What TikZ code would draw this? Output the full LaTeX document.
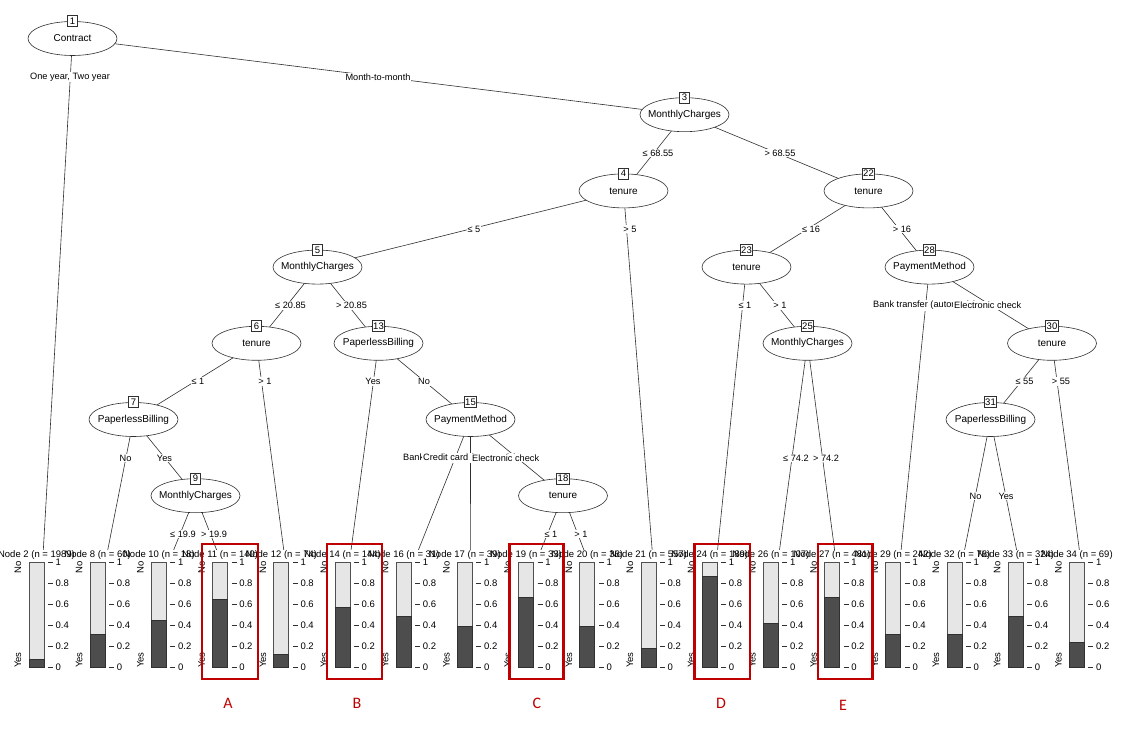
\documentclass[tikz,border=0pt]{standalone}
\usepackage{fontspec}
\setmainfont{Liberation Sans}
\newfontfamily\letterfont{Carlito}
\usetikzlibrary{shapes.geometric,backgrounds}
\pgfdeclarelayer{paper}
\pgfsetlayers{paper,background,main}
\definecolor{edgecol}{HTML}{303030}
\definecolor{barlight}{HTML}{E6E6E6}
\definecolor{bardark}{HTML}{4D4D4D}
\definecolor{barline}{HTML}{505050}
\definecolor{markred}{HTML}{C00000}
\tikzset{
  inode/.style={ellipse, draw=edgecol, fill=white, line width=0.6pt, minimum width=89pt, minimum height=34pt, inner sep=0pt, font=\fontsize{10}{12}\selectfont},
  numbox/.style={draw=edgecol, fill=white, line width=0.6pt, inner sep=1pt, minimum width=10pt, minimum height=11pt, font=\fontsize{9.5}{11}\selectfont},
  elab/.style={fill=white, inner sep=1pt, font=\fontsize{9.2}{10}\selectfont},
  conn/.style={draw=edgecol, line width=0.6pt},
  hdr/.style={inner sep=0pt, font=\fontsize{9.5}{11}\selectfont},
  ticklab/.style={inner sep=0pt, anchor=west, font=\fontsize{9.5}{11}\selectfont},
  sidelab/.style={inner sep=0pt, rotate=90, font=\fontsize{9.5}{11}\selectfont},
  redbox/.style={draw=markred, line width=2.8pt},
  letter/.style={text=markred, font=\letterfont\fontsize{16}{18}\selectfont}
}
\newcommand\termpanel[4]{%
  \pgfmathsetmacro\bl{29+61.2*#2}%
  \pgfmathsetmacro\bd{667-105*#3}%
  \coordinate (t#1) at (\bl+13,573);
  \fill[white] (\bl-2,549.5) rectangle (\bl+28,577);
  \node[hdr] (h#1) at (\bl+7.5,555) {Node #1 (n = #4)};
  \draw[barline, line width=0.7pt, fill=barlight] (\bl,562) rectangle (\bl+15,667);
  \draw[edgecol, line width=0.7pt, fill=bardark] (\bl,\bd) rectangle (\bl+15,667);
  \foreach \k/\t in {0/1,1/0.8,2/0.6,3/0.4,4/0.2,5/0}{
    \draw[edgecol, line width=0.6pt] (\bl+19,562+21*\k) -- (\bl+24,562+21*\k);
    \node[ticklab] at (\bl+26.5,562+21*\k) {\t};
  }
  \node[sidelab, anchor=east] (no#1) at (\bl-11,561) {No};
  \node[sidelab, anchor=west] (yes#1) at (\bl-11,668) {Yes};
}
\begin{document}
\begin{tikzpicture}[x=1pt,y=-1pt]
\begin{pgfonlayer}{paper}
\fill[white] (0,0) rectangle (1125,741);
\end{pgfonlayer}
\useasboundingbox (0,0) rectangle (1125,741);

% inner nodes
\node[inode] (n1) at (72.5,38.5) {\makebox[0pt]{Contract}};
\node[inode] (n3) at (684.5,114.7) {\makebox[0pt]{MonthlyCharges}};
\node[inode] (n4) at (623.5,190.9) {\makebox[0pt]{tenure}};
\node[inode] (n22) at (868.5,190.9) {\makebox[0pt]{tenure}};
\node[inode] (n5) at (317.5,267.1) {\makebox[0pt]{MonthlyCharges}};
\node[inode] (n23) at (746.5,267.1) {\makebox[0pt]{tenure}};
\node[inode] (n28) at (929.5,267.1) {\makebox[0pt]{PaymentMethod}};
\node[inode] (n6) at (256.5,343.3) {\makebox[0pt]{tenure}};
\node[inode] (n13) at (378.5,343.3) {\makebox[0pt]{PaperlessBilling}};
\node[inode] (n25) at (807.5,343.3) {\makebox[0pt]{MonthlyCharges}};
\node[inode] (n30) at (1052,343.3) {\makebox[0pt]{tenure}};
\node[inode] (n7) at (133.5,419.5) {\makebox[0pt]{PaperlessBilling}};
\node[inode] (n15) at (470.5,419.5) {\makebox[0pt]{PaymentMethod}};
\node[inode] (n31) at (990.5,419.5) {\makebox[0pt]{PaperlessBilling}};
\node[inode] (n9) at (195.5,495.7) {\makebox[0pt]{MonthlyCharges}};
\node[inode] (n18) at (563,495.7) {\makebox[0pt]{tenure}};

\foreach \n in {1,3,4,22,5,23,28,6,13,25,30,7,15,31,9,18}{
  \node[numbox] (b\n) at (n\n.north) {\n};
}

% terminal panels
\termpanel{2}{0}{0.07}{1989}
\termpanel{8}{1}{0.31}{60}
\termpanel{10}{2}{0.445}{18}
\termpanel{11}{3}{0.645}{140}
\termpanel{12}{4}{0.124}{74}
\termpanel{14}{5}{0.57}{144}
\termpanel{16}{6}{0.486}{31}
\termpanel{17}{7}{0.39}{39}
\termpanel{19}{8}{0.667}{33}
\termpanel{20}{9}{0.39}{36}
\termpanel{21}{10}{0.174}{557}
\termpanel{24}{11}{0.86}{189}
\termpanel{26}{12}{0.416}{107}
\termpanel{27}{13}{0.667}{481}
\termpanel{29}{14}{0.314}{242}
\termpanel{32}{15}{0.31}{76}
\termpanel{33}{16}{0.486}{324}
\termpanel{34}{17}{0.238}{69}

% connectors
\begin{scope}[on background layer]
\foreach \a/\b in {n1/t2, n1/n3, n3/n4, n3/n22, n4/n5, n4/t21, n22/n23, n22/n28,
  n5/n6, n5/n13, n23/t24, n23/n25, n28/t29, n28/n30, n6/n7, n6/t12, n13/t14, n13/n15,
  n25/t26, n25/t27, n30/n31, n30/t34, n7/t8, n7/n9, n15/t16, n15/t17, n15/n18,
  n31/t32, n31/t33, n9/t10, n9/t11, n18/t19, n18/t20}{
  \draw[conn] (\a.center) -- (\b.center);
}
\end{scope}

% edge labels
\node[elab] (l1) at (70,77) {One year, Two year};
\node[elab] (l2) at (378,77) {Month-to-month};
\node[elab] (l3) at (658,153) {≤ 68.55};
\node[elab] (l4) at (780,153) {> 68.55};
\node[elab] (l5) at (474,229) {≤ 5};
\node[elab] (l6) at (630,229) {> 5};
\node[elab] (l7) at (811,229) {≤ 16};
\node[elab] (l8) at (902,229) {> 16};
\node[elab] (l9) at (290.5,305.5) {≤ 20.85};
\node[elab] (l10) at (351.5,305.5) {> 20.85};
\node[elab] (l11) at (745,305.5) {≤ 1};
\node[elab] (l12) at (780,305.5) {> 1};
\node[elab, anchor=west] (l13) at (872,305.5) {Bank transfer (automatic)};
\node[elab, anchor=west] (l14) at (953,305.5) {Electronic check};
\node[elab] (l15) at (198,381.5) {≤ 1};
\node[elab] (l16) at (265,381.5) {> 1};
\node[elab] (l17) at (373,381.5) {Yes};
\node[elab] (l18) at (424,381.5) {No};
\node[elab] (l19) at (1024.5,381.5) {≤ 55};
\node[elab] (l20) at (1061,381.5) {> 55};
\node[elab, anchor=west] (l21) at (782,458) {≤ 74.2};
\node[elab] (l22) at (826,458) {> 74.2};
\node[elab] (l23) at (125.5,458) {No};
\node[elab] (l24) at (164.5,458) {Yes};
\node[elab, anchor=west] (l25) at (402,458) {Bank transfer (automatic)};
\node[elab, anchor=west] (l26) at (422,458) {Credit card (automatic)};
\node[elab, anchor=west] (l27) at (471,458) {Electronic check};
\node[elab] (l28) at (975.5,496) {No};
\node[elab] (l29) at (1006,496) {Yes};
\node[elab, anchor=west] (l30) at (169,534) {≤ 19.9};
\node[elab] (l31) at (214,534) {> 19.9};
\node[elab] (l32) at (551,534) {≤ 1};
\node[elab] (l33) at (581,534) {> 1};

% red highlight boxes and letters
\draw[redbox] (202,544) rectangle (258,679);
\draw[redbox] (327,544) rectangle (382,679);
\draw[redbox] (509.5,544) rectangle (563.5,679);
\draw[redbox] (694.5,544) rectangle (750,679);
\draw[redbox] (818,544) rectangle (872.5,679);
\node[letter] (A) at (228,703) {A};
\node[letter] (B) at (357,703) {B};
\node[letter] (C) at (537,703) {C};
\node[letter] (D) at (721,703) {D};
\node[letter] (E) at (843,705) {E};
\end{tikzpicture}
\end{document}
